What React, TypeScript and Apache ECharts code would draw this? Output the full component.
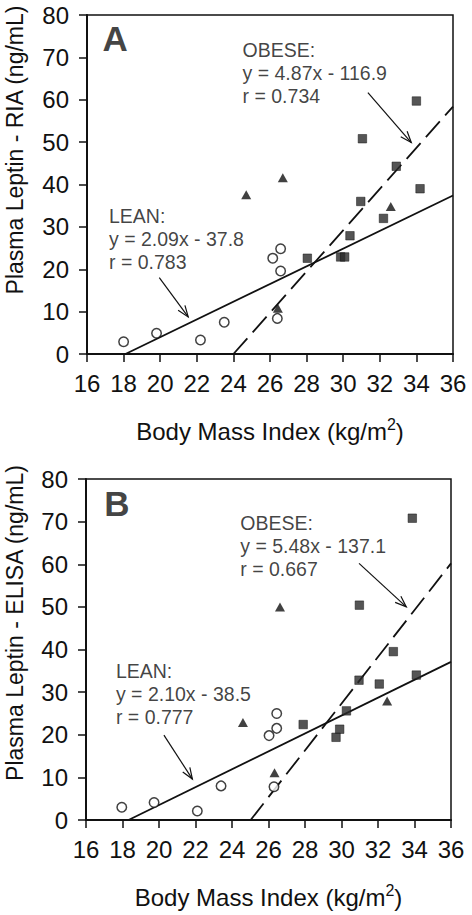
import React, { useEffect, useRef } from "react";
import * as echarts from "echarts";

// ---------- Panel A (RIA) ----------
const leanCirclesA: [number, number][] = [
  [18.0, 2.9], [19.8, 4.9], [22.2, 3.3], [23.5, 7.5],
  [26.15, 22.6], [26.58, 24.85], [26.58, 19.6], [26.4, 8.4],
];
const obeseSquaresA: [number, number][] = [
  [34.0, 59.7], [31.05, 50.8], [32.9, 44.3], [34.2, 39.0], [30.96, 36.0],
  [32.2, 32.0], [30.37, 27.9], [28.04, 22.6], [29.86, 22.9], [30.08, 22.9],
];
const obeseTrianglesA: [number, number][] = [
  [24.7, 37.6], [26.7, 41.6], [32.6, 34.8], [26.43, 10.8],
];
const leanFitA: [number, number][] = [[18.1, 0], [36, 37.4]];
const obeseFitA: [number, number][] = [[24.0, 0], [36, 58.4]];
const arrowsA: number[][] = [[19.95, 18.0, 21.53, 8.76], [31.35, 61.7, 33.72, 49.9]];
const notesA = ["LEAN:\ny = 2.09x - 37.8\nr = 0.783", "OBESE:\ny = 4.87x - 116.9\nr = 0.734"];
const noteAnchorsA: [number, number][] = [[17.2, 27.2], [24.5, 66.4]];
const letterA = "A";
const letterAnchorA: [number, number] = [16.85, 74.4];
const yTitleA = "Plasma Leptin - RIA (ng/mL)";

// ---------- Panel B (ELISA) ----------
const leanCirclesB: [number, number][] = [
  [17.96, 3.0], [19.73, 4.1], [22.1, 2.1], [23.4, 8.0],
  [26.03, 19.8], [26.45, 25.0], [26.45, 21.5], [26.3, 7.8],
];
const obeseSquaresB: [number, number][] = [
  [33.88, 70.8], [30.98, 50.4], [32.84, 39.5], [34.1, 34.0], [30.96, 32.8],
  [32.07, 31.9], [30.27, 25.6], [27.9, 22.4], [29.9, 21.3], [29.7, 19.4],
];
const obeseTrianglesB: [number, number][] = [
  [26.63, 50.0], [32.5, 27.9], [24.6, 22.9], [26.33, 11.1],
];
const leanFitB: [number, number][] = [[18.33, 0], [36, 37.1]];
const obeseFitB: [number, number][] = [[25.02, 0], [36, 60.2]];
const arrowsB: number[][] = [[20.27, 19.9, 21.83, 9.6], [30.96, 60.2, 33.55, 50.0]];
const notesB = ["LEAN:\ny = 2.10x - 38.5\nr = 0.777", "OBESE:\ny = 5.48x - 137.1\nr = 0.667"];
const noteAnchorsB: [number, number][] = [[17.64, 29.6], [24.45, 64.2]];
const letterB = "B";
const letterAnchorB: [number, number] = [17.0, 74.3];
const yTitleB = "Plasma Leptin - ELISA (ng/mL)";

// ---------- Axes ----------
const xMin = 16, xMax = 36, xStep = 2;
const yMin = 0, yMax = 80, yStep = 10;
const xTitle = "Body Mass Index (kg/m{sup|2})";

const FONT = "'Liberation Sans', Arial, Helvetica, sans-serif";
const INK = "#111";

function arrowRender(params: any, api: any) {
  const p1 = api.coord([api.value(0), api.value(1)]);
  const p2 = api.coord([api.value(2), api.value(3)]);
  const ang = Math.atan2(p2[1] - p1[1], p2[0] - p1[0]);
  const L = 12, a = 0.36;
  const h1 = [p2[0] - L * Math.cos(ang - a), p2[1] - L * Math.sin(ang - a)];
  const h2 = [p2[0] - L * Math.cos(ang + a), p2[1] - L * Math.sin(ang + a)];
  return {
    type: "group",
    children: [
      { type: "line", shape: { x1: p1[0], y1: p1[1], x2: p2[0], y2: p2[1] }, style: { stroke: INK, lineWidth: 1.2 } },
      { type: "polyline", shape: { points: [h1, p2, h2] }, style: { stroke: INK, lineWidth: 1.2, fill: "none" } },
    ],
  };
}

function panelSeries(
  idx: number,
  circles: [number, number][],
  squares: [number, number][],
  triangles: [number, number][],
  leanFit: [number, number][],
  obeseFit: [number, number][],
  arrows: number[][],
  notes: string[],
  anchors: [number, number][],
  letter: string,
  letterAnchor: [number, number]
) {
  const base = { xAxisIndex: idx, yAxisIndex: idx };
  return [
    {
      ...base, type: "line", data: leanFit, symbol: "none", silent: true,
      lineStyle: { color: INK, width: 1.8 }, z: 2,
    },
    {
      ...base, type: "line", data: obeseFit, symbol: "none", silent: true,
      lineStyle: { color: INK, width: 1.8, type: [21, 8] }, z: 2,
    },
    {
      ...base, type: "custom", renderItem: arrowRender, data: arrows,
      encode: { x: [0, 2], y: [1, 3] }, clip: false, silent: true, z: 3,
    },
    {
      ...base, type: "scatter", data: circles, symbol: "circle", symbolSize: 9.5,
      itemStyle: { color: "#fff", borderColor: INK, borderWidth: 1.5 }, z: 4,
    },
    {
      ...base, type: "scatter", data: squares, symbol: "rect", symbolSize: 8.5,
      itemStyle: { color: "#2b2b2b", borderColor: "#111", borderWidth: 0.6 }, z: 4,
    },
    {
      ...base, type: "scatter", data: triangles, symbol: "triangle", symbolSize: [10, 9],
      itemStyle: { color: INK }, z: 4,
    },
    {
      ...base, type: "scatter", symbolSize: 0.01, silent: true, z: 5,
      itemStyle: { color: "transparent" },
      data: [
        ...anchors.map((p, i) => ({
          value: p,
          label: {
            show: true, position: "right", distance: 0, formatter: notes[i],
            fontFamily: FONT, fontSize: 19.5, lineHeight: 23, color: INK, align: "left",
          },
        })),
        {
          value: letterAnchor,
          label: {
            show: true, position: "right", distance: 0, formatter: letter,
            fontFamily: FONT, fontSize: 35, fontWeight: "bold", color: INK,
          },
        },
      ],
    },
  ];
}

function xAxisCfg(idx: number) {
  return {
    type: "value", gridIndex: idx, min: xMin, max: xMax, interval: xStep,
    name: xTitle, nameLocation: "middle", nameGap: 62,
    nameTextStyle: {
      fontFamily: FONT, fontSize: 24, color: INK, lineHeight: 30,
      rich: { sup: { fontFamily: FONT, fontSize: 16, color: INK, verticalAlign: "top", lineHeight: 30, padding: [0, 0, 12, 0] } },
    },
    axisLine: { show: true, onZero: false, lineStyle: { color: INK, width: 2 } },
    axisTick: { show: true, inside: false, length: 8, lineStyle: { color: INK, width: 1.5 } },
    axisLabel: { fontFamily: FONT, fontSize: 24, color: INK, margin: 17 },
    splitLine: { show: false },
  };
}
function yAxisCfg(idx: number) {
  return {
    type: "value", gridIndex: idx, min: yMin, max: yMax, interval: yStep,
    axisLine: { show: true, onZero: false, lineStyle: { color: INK, width: 2 } },
    axisTick: { show: true, inside: false, length: 8, lineStyle: { color: INK, width: 1.5 } },
    axisLabel: { fontFamily: FONT, fontSize: 24, color: INK, margin: 18 },
    splitLine: { show: false },
  };
}

export default function App() {
  const ref = useRef<HTMLDivElement>(null);
  useEffect(() => {
    if (!ref.current) return;
    const chart = echarts.init(ref.current, null, { renderer: "svg" });
    chart.setOption({
      animation: false,
      backgroundColor: "#fff",
      grid: [
        { left: 87, top: 15, right: 19, bottom: 561, show: true, borderColor: INK, borderWidth: 1.5, outerBoundsMode: "none" },
        { left: 86, top: 479, right: 21, bottom: 95, show: true, borderColor: INK, borderWidth: 1.5, outerBoundsMode: "none" },
      ],
      xAxis: [xAxisCfg(0), xAxisCfg(1)],
      yAxis: [yAxisCfg(0), yAxisCfg(1)],
      graphic: [
        {
          type: "text", x: 15, y: 150, rotation: Math.PI / 2,
          style: { text: yTitleA, font: `23px ${FONT}`, fill: INK, align: "center", verticalAlign: "middle" },
        },
        {
          type: "text", x: 15, y: 623, rotation: Math.PI / 2,
          style: { text: yTitleB, font: `23px ${FONT}`, fill: INK, align: "center", verticalAlign: "middle" },
        },
      ],
      series: [
        ...panelSeries(0, leanCirclesA, obeseSquaresA, obeseTrianglesA, leanFitA, obeseFitA, arrowsA, notesA, noteAnchorsA, letterA, letterAnchorA),
        ...panelSeries(1, leanCirclesB, obeseSquaresB, obeseTrianglesB, leanFitB, obeseFitB, arrowsB, notesB, noteAnchorsB, letterB, letterAnchorB),
      ],
    });
    return () => chart.dispose();
  }, []);
  return <div ref={ref} style={{ position: "absolute", left: 0, top: 0, width: 472, height: 915 }} />;
}
